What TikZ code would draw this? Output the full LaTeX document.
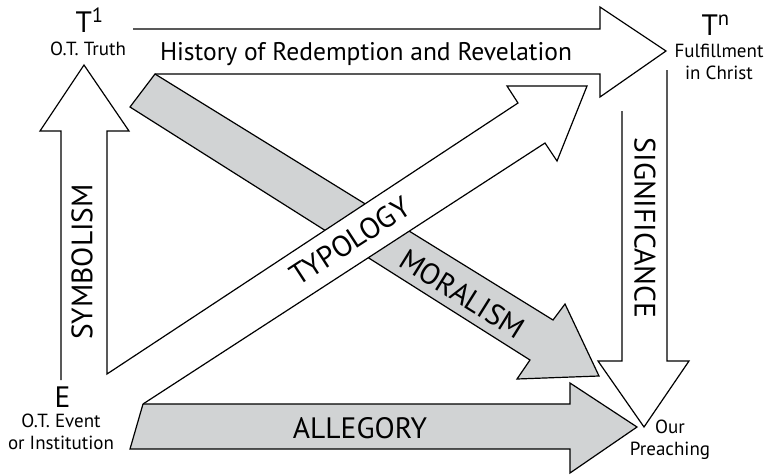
\documentclass[tikz,border=0pt]{standalone}
\usepackage{fontspec}
\setmainfont{PT Sans}
\usepackage{tikz}
\definecolor{arrowgray}{RGB}{209,211,212}

\begin{document}
\begin{tikzpicture}[x = 1pt, y = -1pt, line width = 1.2pt, line join = miter,
                    big/.style = {inner sep = 0pt, font = \fontsize{29.5}{31}\selectfont},
                    small/.style = {inner sep = 0pt, align = center, font = \fontsize{19}{22}\selectfont},
                    title/.style = {inner sep = 0pt, font = \fontsize{25.5}{27}\selectfont}]
      \useasboundingbox (0, 0) rectangle (768, 474);
      % history of redemption
      \draw (133, 29) -- (600, 29) -- (600, 7) -- (666, 51) -- (600, 97) -- (600, 74) -- (155, 74);
      % moralism and allegory
      \draw [fill = arrowgray] (155, 74) -- (553, 320) -- (565, 304) -- (599, 376) -- (517, 379) -- (530, 360) -- (130, 107) -- cycle;
      \draw [fill = arrowgray] (143, 404) -- (570, 404) -- (570, 383) -- (637, 427) -- (570, 473) -- (570, 449) -- (130, 449) -- cycle;
      % symbolism and typology
      \fill [white] (107, 374) -- (518, 103) -- (507, 86) -- (587, 86) -- (557, 161) -- (545, 143) -- (143, 404) -- cycle;
      \draw (61, 380) -- (61, 131) -- (40, 131) -- (84, 65) -- (129, 131) -- (107, 131) -- (107, 374)
            -- (518, 103) -- (507, 86) -- (587, 86) -- (557, 161) -- (545, 143) -- (143, 404);
      % significance
      \draw (622, 111) -- (622, 361) -- (598, 361) -- (644, 427) -- (689, 361) -- (667, 361) -- (667, 70);
      % end points
      \node [big, anchor = base west] (t1) at (75, 32) {T\textsuperscript{1}};
      \node [small, anchor = base] (truth) at (88, 55) {O.T. Truth};
      \node [big, anchor = base west] (tn) at (701, 35) {T\textsuperscript{n}};
      \node [small, anchor = base] (fulfil) at (719, 79) {Fulfillment\\in Christ};
      \node [big, anchor = base west] (e) at (54, 407) {E};
      \node [small, anchor = base] (event) at (61, 449) {O.T. Event\\or Institution};
      \node [small, anchor = base] (preach) at (670, 455) {Our\\Preaching};
      % arrow labels
      \node [title, anchor = base] (hist) at (366, 60) {History of Redemption and Revelation};
      \node [big, rotate = 90] (symb) at (82, 262) {SYMBOLISM};
      \node [big, rotate = -90] (signif) at (645, 228) {SIGNIFICANCE};
      \node [big, rotate = 33] (typo) at (350, 241) {TYPOLOGY};
      \node [big, rotate = -32] (moral) at (462, 294) {MORALISM};
      \node [big, anchor = base] (alleg) at (360, 438) {ALLEGORY};
\end{tikzpicture}
\end{document}
